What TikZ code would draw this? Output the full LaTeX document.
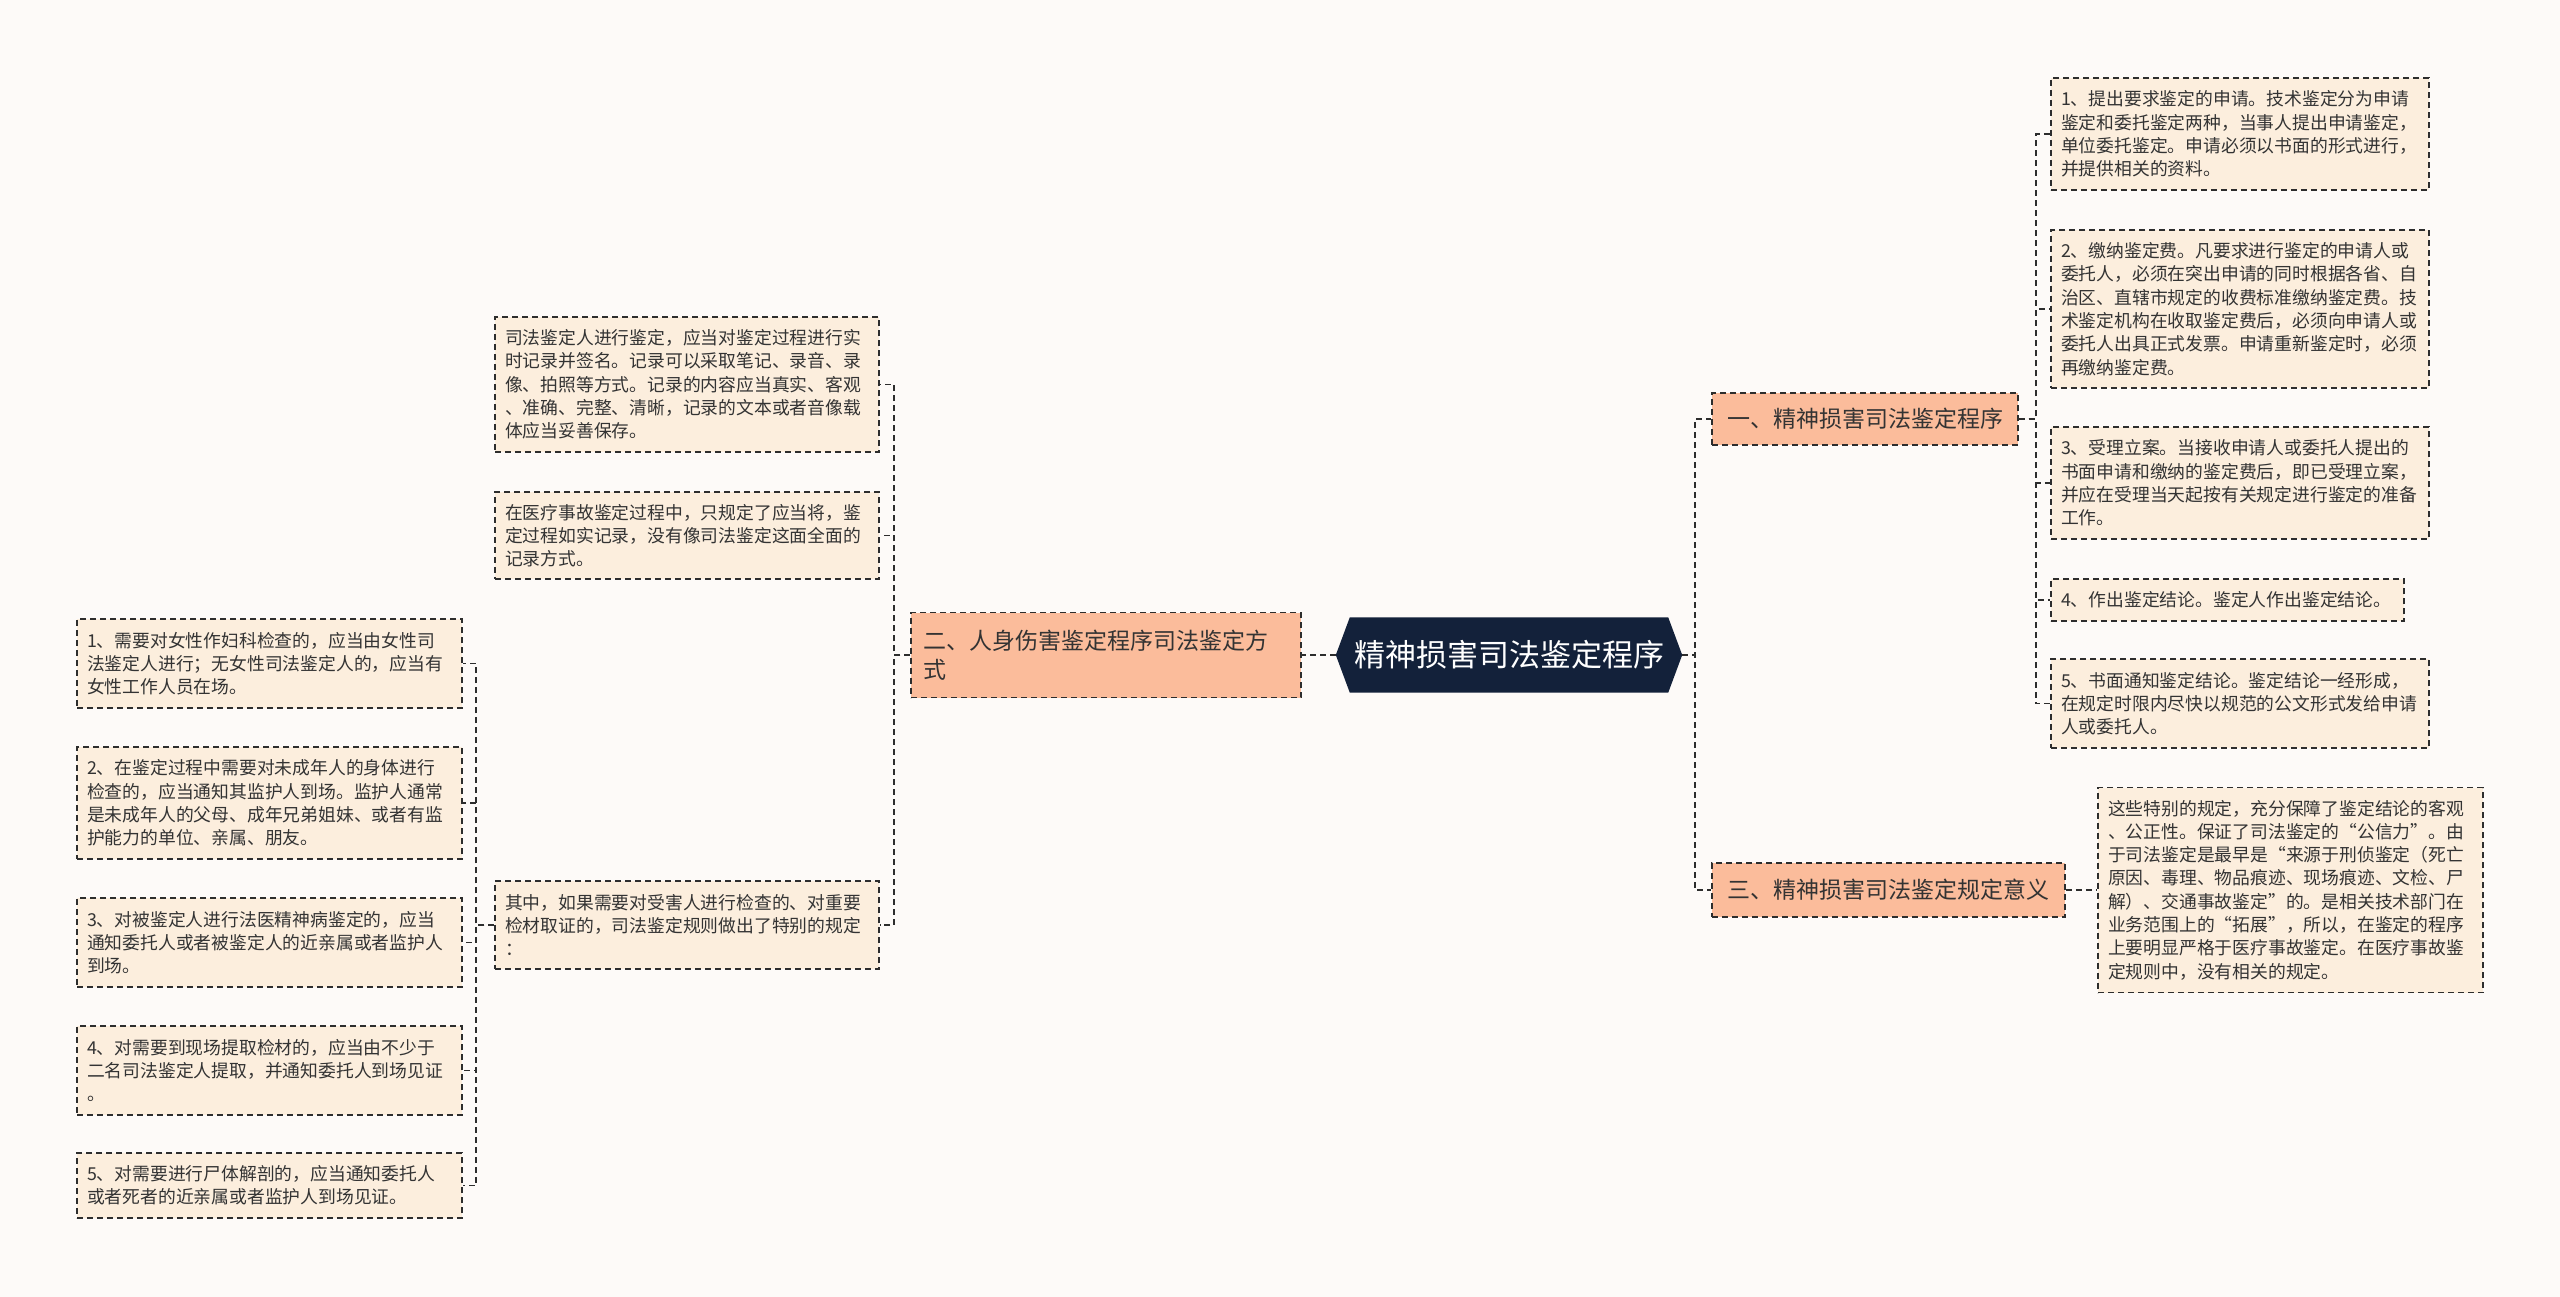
\documentclass[tikz,border=0pt]{standalone}
\usepackage{fontspec}
\setmainfont{Noto Sans CJK SC}
\definecolor{bgc}{RGB}{253,250,248}
\definecolor{leaff}{RGB}{252,238,221}
\definecolor{mainf}{RGB}{251,188,155}
\definecolor{rootf}{RGB}{19,33,58}
\definecolor{linec}{RGB}{45,45,45}
\definecolor{txtc}{RGB}{51,51,51}
\tikzset{
  dashline/.style={draw=linec, line width=1.8pt, dash pattern=on 6pt off 4pt},
  conn/.style={draw=linec, line width=1.8pt, dash pattern=on 6pt off 4pt},
  leafbox/.style={dashline, fill=leaff, text=txtc, inner xsep=10pt, inner ysep=0pt,
     align=left, font=\fontsize{17.8}{23.3}\selectfont, text width=#1},
  mainbox/.style={dashline, fill=mainf, text=txtc, inner xsep=12pt, inner ysep=0pt,
     font=\fontsize{23}{29.5}\selectfont},
}
\begin{document}
\begin{tikzpicture}[x=1pt,y=-1pt]
\useasboundingbox (0,0) rectangle (2560,1297);
\fill[bgc] (0,0) rectangle (2560,1297);

% root
\node[minimum width=346pt, minimum height=75pt, inner sep=0pt] (root) at (1509,655) {};
\fill[rootf] (root.west) -- ([xshift=14pt]root.north west) -- ([xshift=-14pt]root.north east)
  -- (root.east) -- ([xshift=-14pt]root.south east) -- ([xshift=14pt]root.south west) -- cycle;
\node[text=white, font=\fontsize{31}{36}\selectfont, inner sep=0pt] (roottext) at (root.center) {精神损害司法鉴定程序};

% level 1
\node[mainbox, minimum width=306pt, minimum height=52pt] (n1) at (1865,419) {一、精神损害司法鉴定程序};
\node[mainbox, minimum width=353pt, minimum height=54pt] (n3) at (1888.5,890) {三、精神损害司法鉴定规定意义};
\node[mainbox, text width=366pt, align=left, minimum height=85pt] (n2) at (1106,655) {二、人身伤害鉴定程序司法鉴定方\\式};

% right leaves of n1
\node[leafbox=358pt, minimum height=112pt] (R1) at (2240,134) {1、提出要求鉴定的申请。技术鉴定分为申请\\鉴定和委托鉴定两种，当事人提出申请鉴定，\\单位委托鉴定。申请必须以书面的形式进行，\\并提供相关的资料。};
\node[leafbox=358pt, minimum height=158pt] (R2) at (2240,309) {2、缴纳鉴定费。凡要求进行鉴定的申请人或\\委托人，必须在突出申请的同时根据各省、自\\治区、直辖市规定的收费标准缴纳鉴定费。技\\术鉴定机构在收取鉴定费后，必须向申请人或\\委托人出具正式发票。申请重新鉴定时，必须\\再缴纳鉴定费。};
\node[leafbox=358pt, minimum height=112pt] (R3) at (2240,483) {3、受理立案。当接收申请人或委托人提出的\\书面申请和缴纳的鉴定费后，即已受理立案，\\并应在受理当天起按有关规定进行鉴定的准备\\工作。};
\node[leafbox=333pt, minimum height=42pt] (R4) at (2227.5,600) {4、作出鉴定结论。鉴定人作出鉴定结论。};
\node[leafbox=358pt, minimum height=89pt] (R5) at (2240,703.5) {5、书面通知鉴定结论。鉴定结论一经形成，\\在规定时限内尽快以规范的公文形式发给申请\\人或委托人。};

% leaf of n3
\node[leafbox=365pt, minimum height=205pt] (T) at (2290.5,890) {这些特别的规定，充分保障了鉴定结论的客观\\、公正性。保证了司法鉴定的“公信力”。由\\于司法鉴定是最早是“来源于刑侦鉴定（死亡\\原因、毒理、物品痕迹、现场痕迹、文检、尸\\解）、交通事故鉴定”的。是相关技术部门在\\业务范围上的“拓展”，所以，在鉴定的程序\\上要明显严格于医疗事故鉴定。在医疗事故鉴\\定规则中，没有相关的规定。};

% left leaves of n2
\node[leafbox=364pt, minimum height=135pt] (A) at (687,384.5) {司法鉴定人进行鉴定，应当对鉴定过程进行实\\时记录并签名。记录可以采取笔记、录音、录\\像、拍照等方式。记录的内容应当真实、客观\\、准确、完整、清晰，记录的文本或者音像载\\体应当妥善保存。};
\node[leafbox=364pt, minimum height=87pt] (B) at (687,535.5) {在医疗事故鉴定过程中，只规定了应当将，鉴\\定过程如实记录，没有像司法鉴定这面全面的\\记录方式。};
\node[leafbox=364pt, minimum height=88pt] (C) at (687,925) {其中，如果需要对受害人进行检查的、对重要\\检材取证的，司法鉴定规则做出了特别的规定\\：};

% far-left leaves of C
\node[leafbox=365pt, minimum height=89pt] (L1) at (269.5,663.5) {1、需要对女性作妇科检查的，应当由女性司\\法鉴定人进行；无女性司法鉴定人的，应当有\\女性工作人员在场。};
\node[leafbox=365pt, minimum height=112pt] (L2) at (269.5,803) {2、在鉴定过程中需要对未成年人的身体进行\\检查的，应当通知其监护人到场。监护人通常\\是未成年人的父母、成年兄弟姐妹、或者有监\\护能力的单位、亲属、朋友。};
\node[leafbox=365pt, minimum height=89pt] (L3) at (269.5,942.5) {3、对被鉴定人进行法医精神病鉴定的，应当\\通知委托人或者被鉴定人的近亲属或者监护人\\到场。};
\node[leafbox=365pt, minimum height=89pt] (L4) at (269.5,1070.5) {4、对需要到现场提取检材的，应当由不少于\\二名司法鉴定人提取，并通知委托人到场见证\\。};
\node[leafbox=365pt, minimum height=65pt] (L5) at (269.5,1185.5) {5、对需要进行尸体解剖的，应当通知委托人\\或者死者的近亲属或者监护人到场见证。};

% connectors
\draw[conn] (root.east) -- ++(13,0) |- (n1.west);
\draw[conn] (root.east) -- ++(13,0) |- (n3.west);
\draw[conn] (root.west) -- (n2.east);

\foreach \c in {R1,R2,R3,R4,R5}{
  \draw[conn] (n1.east) -- ++(17,0) |- (\c.west);
}
\draw[conn] (n3.east) -- (T.west);

\foreach \c in {A,B,C}{
  \draw[conn] (n2.west) -- ++(-16,0) |- (\c.east);
}
\foreach \c in {L1,L2,L3,L4,L5}{
  \draw[conn] (C.west) -- ++(-18,0) |- (\c.east);
}
\end{tikzpicture}
\end{document}
